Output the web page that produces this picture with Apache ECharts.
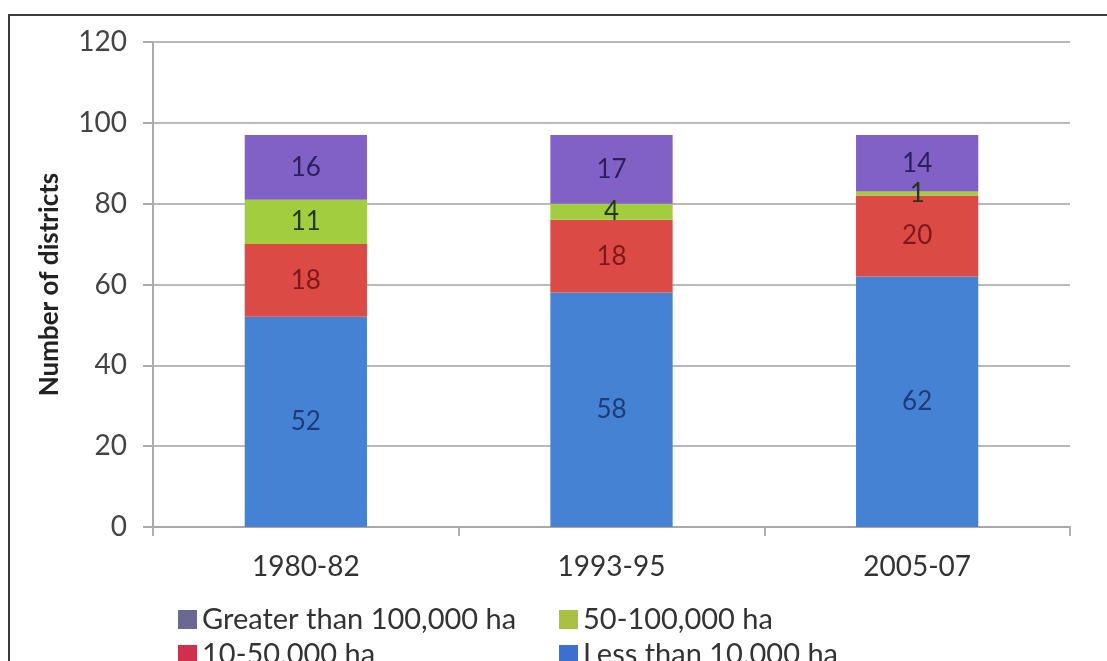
<!DOCTYPE html>
<html>
<head>
<meta charset="utf-8">
<title>Number of districts by area class</title>
<script src="https://cdn.jsdelivr.net/npm/echarts@6/dist/echarts.min.js"></script>
<style>
  html, body { margin: 0; padding: 0; background: #ffffff; }
  #chart { width: 1107px; height: 661px; }
</style>
</head>
<body>
<div id="chart"></div>
<script>
// Periods on the category axis
const categories = ['1980-82', '1993-95', '2005-07'];

// Number of districts in each area class, per period (stacked bottom to top)
const lessThan10k = [52, 58, 62];
const from10to50k = [18, 18, 20];
const from50to100k = [11, 4, 1];
const greaterThan100k = [16, 17, 14];

// Value axis ticks
const yTicks = [0, 20, 40, 60, 80, 100, 120];

const FONT = 'Lato, "Open Sans", sans-serif';

const seriesDefs = [
  { name: 'Less than 10,000 ha', data: lessThan10k, color: '#4682d3', label: '#1d3b78', legend: '#3d6fd0' },
  { name: '10-50,000 ha', data: from10to50k, color: '#db4a45', label: '#7f1818', legend: '#d0304c' },
  { name: '50-100,000 ha', data: from50to100k, color: '#a2cd3f', label: '#1f3a10', legend: '#a9c043' },
  { name: 'Greater than 100,000 ha', data: greaterThan100k, color: '#8161c6', label: '#2b1f5c', legend: '#6c6894' }
];

const series = seriesDefs.map(d => ({
  name: d.name,
  type: 'bar',
  stack: 'districts',
  barWidth: '40%',
  data: d.data,
  itemStyle: { color: d.color },
  label: {
    show: true,
    position: 'inside',
    color: d.label,
    fontFamily: FONT,
    fontSize: 26
  }
}));

// One legend block per entry, laid out as a 2 x 2 grid
function legendItem(def, left, top) {
  return {
    data: [{ name: def.name, itemStyle: { color: def.legend } }],
    left: left,
    top: top,
    padding: 0,
    icon: 'rect',
    itemWidth: 19,
    itemHeight: 19,
    selectedMode: false,
    textStyle: { fontFamily: FONT, fontSize: 29, color: '#333333' }
  };
}

const chart = echarts.init(document.getElementById('chart'), null, { renderer: 'canvas' });

chart.setOption({
  backgroundColor: '#ffffff',
  animation: false,
  textStyle: { fontFamily: FONT },
  graphic: [{
    type: 'rect',
    shape: { x: 9, y: 15, width: 1300, height: 900 },
    style: { fill: 'none', stroke: '#3a3a3a', lineWidth: 2 },
    silent: true,
    z: 100
  }],
  grid: { left: 153, right: 37, top: 42, bottom: 134, containLabel: false },
  legend: [
    legendItem(seriesDefs[3], 178, 605),
    legendItem(seriesDefs[2], 559, 605),
    legendItem(seriesDefs[1], 178, 640),
    legendItem(seriesDefs[0], 559, 640)
  ],
  xAxis: {
    type: 'category',
    data: categories,
    axisLine: { show: true, lineStyle: { color: '#a8a8a8', width: 2 } },
    axisTick: { show: true, alignWithLabel: false, length: 9, lineStyle: { color: '#b0b0b0', width: 2 } },
    axisLabel: { margin: 26, fontFamily: FONT, fontSize: 28, color: '#333333' }
  },
  yAxis: {
    type: 'value',
    min: yTicks[0],
    max: yTicks[yTicks.length - 1],
    interval: yTicks[1] - yTicks[0],
    name: 'Number of districts',
    nameLocation: 'middle',
    nameRotate: 90,
    nameGap: 90,
    nameTextStyle: { fontFamily: FONT, fontSize: 26, fontWeight: 'bold', color: '#222222' },
    axisLine: { show: true, lineStyle: { color: '#ababab', width: 2 } },
    axisTick: { show: true, length: 10, lineStyle: { color: '#ababab', width: 2 } },
    axisLabel: { margin: 26, fontFamily: FONT, fontSize: 28, color: '#444444' },
    splitLine: { show: true, lineStyle: { color: '#b9b9b9', width: 2 } }
  },
  series: series
});
</script>
</body>
</html>
